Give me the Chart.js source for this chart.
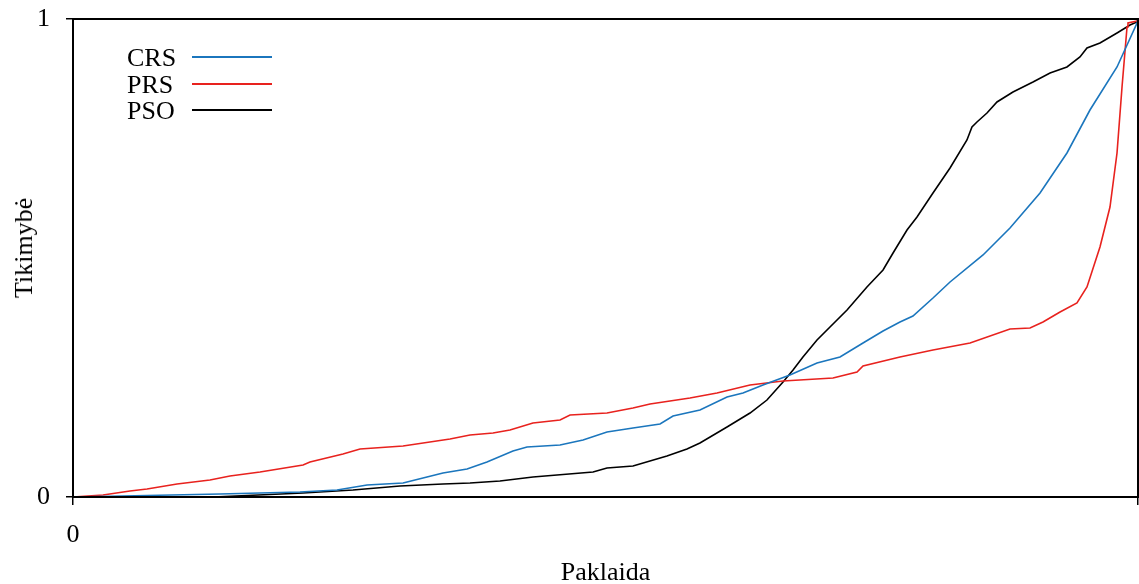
<!DOCTYPE html>
<html>
<head>
<meta charset="utf-8">
<script src="https://cdn.jsdelivr.net/npm/chart.js@4.4.1/dist/chart.umd.min.js"></script>
<style>
  html, body { margin: 0; padding: 0; background: #fff; overflow: hidden; }
  #wrap { position: relative; width: 1139px; height: 584px; }
  canvas { display: block; }
  .lg-text { position: absolute; font-family: "Liberation Serif", serif; font-size: 26px; line-height: 27px; color: #000; white-space: nowrap; }
  .lg-line { position: absolute; height: 2px; width: 80px; }
  #ytitle { position: absolute; left: 24px; top: 248px; transform: translate(-50%, -50%) rotate(-90deg); font-family: "Liberation Serif", serif; font-size: 26px; line-height: 26px; white-space: nowrap; color: #000; }
</style>
</head>
<body>
<div id="wrap">
  <canvas id="c" width="1139" height="584"></canvas>
  <div id="ytitle">Tikimybė</div>
</div>
<script>
// ---- data (error on x, cumulative probability on y) ----
const seriesNames = ['CRS', 'PRS', 'PSO'];
const seriesColors = ['#1b76bd', '#e8221e', '#000000'];

const crsErr  = [0, 0.0469, 0.1380, 0.2131, 0.2479, 0.2761, 0.3099, 0.3324, 0.3474, 0.3700, 0.3887, 0.4131, 0.4263, 0.4573, 0.4789, 0.5014, 0.5258, 0.5512, 0.5634, 0.5887, 0.6141, 0.6291, 0.6479, 0.6732, 0.6986, 0.7202, 0.7418, 0.7606, 0.7765, 0.7887, 0.8075, 0.8235, 0.8545, 0.8798, 0.9080, 0.9333, 0.9549, 0.9803, 0.9991, 1];
const crsProb = [0, 0.0021, 0.0063, 0.0105, 0.0146, 0.0251, 0.0293, 0.0418, 0.0502, 0.0586, 0.0732, 0.0962, 0.1046, 0.1088, 0.1192, 0.1360, 0.1444, 0.1527, 0.1695, 0.1820, 0.2092, 0.2176, 0.2343, 0.2552, 0.2803, 0.2929, 0.3222, 0.3473, 0.3661, 0.3787, 0.4163, 0.4498, 0.5063, 0.5628, 0.6360, 0.7197, 0.8096, 0.8996, 0.9916, 1];

const prsErr  = [0, 0.0282, 0.0535, 0.0695, 0.0977, 0.1286, 0.1474, 0.1756, 0.2160, 0.2225, 0.2535, 0.2695, 0.3099, 0.3540, 0.3728, 0.3944, 0.4103, 0.4319, 0.4573, 0.4667, 0.5014, 0.5258, 0.5418, 0.5793, 0.6047, 0.6357, 0.6667, 0.7136, 0.7362, 0.7418, 0.7765, 0.8075, 0.8423, 0.8798, 0.8986, 0.9108, 0.9268, 0.9427, 0.9521, 0.9643, 0.9737, 0.9803, 0.9850, 0.9897, 0.9906, 0.9991, 1];
const prsProb = [0, 0.0042, 0.0126, 0.0167, 0.0272, 0.0356, 0.0439, 0.0523, 0.0669, 0.0732, 0.0900, 0.1004, 0.1067, 0.1213, 0.1297, 0.1339, 0.1402, 0.1548, 0.1611, 0.1715, 0.1757, 0.1862, 0.1946, 0.2071, 0.2176, 0.2343, 0.2427, 0.2490, 0.2615, 0.2741, 0.2929, 0.3075, 0.3222, 0.3515, 0.3536, 0.3661, 0.3870, 0.4059, 0.4393, 0.5230, 0.6067, 0.7197, 0.8577, 0.9833, 0.9916, 0.9958, 1];

const psoErr  = [0, 0.1315, 0.2160, 0.2629, 0.3070, 0.3474, 0.3728, 0.4009, 0.4319, 0.4883, 0.5014, 0.5258, 0.5577, 0.5765, 0.5887, 0.6141, 0.6357, 0.6516, 0.6667, 0.6761, 0.6854, 0.6986, 0.7108, 0.7268, 0.7455, 0.7606, 0.7700, 0.7831, 0.7925, 0.8075, 0.8235, 0.8394, 0.8441, 0.8488, 0.8582, 0.8676, 0.8826, 0.9014, 0.9174, 0.9333, 0.9455, 0.9521, 0.9643, 0.9803, 0.9925, 0.9991, 1];
const psoProb = [0, 0, 0.0084, 0.0146, 0.0230, 0.0272, 0.0293, 0.0335, 0.0418, 0.0523, 0.0607, 0.0649, 0.0858, 0.1004, 0.1130, 0.1464, 0.1757, 0.2029, 0.2406, 0.2657, 0.2929, 0.3285, 0.3556, 0.3912, 0.4393, 0.4749, 0.5105, 0.5586, 0.5858, 0.6360, 0.6883, 0.7469, 0.7741, 0.7845, 0.8033, 0.8264, 0.8473, 0.8682, 0.8870, 0.8996, 0.9205, 0.9393, 0.9498, 0.9707, 0.9874, 0.9937, 1];

const xTicks = [0, 1];
const yTicks = [0, 1];
const xTitle = 'Paklaida';

// ---- build datasets ----
const pairs = [[crsErr, crsProb], [prsErr, prsProb], [psoErr, psoProb]];
const datasets = pairs.map((p, i) => ({
  label: seriesNames[i],
  data: p[0].map((x, k) => ({ x: x, y: p[1][k] })),
  borderColor: seriesColors[i],
  borderWidth: 1.6,
  pointRadius: 0,
  tension: 0,
  fill: false
}));

// ---- HTML legend inside plot ----
const wrap = document.getElementById('wrap');
seriesNames.forEach((name, i) => {
  const top = 44 + i * 26.7;
  const t = document.createElement('div');
  t.className = 'lg-text';
  t.style.left = '127px';
  t.style.top = top + 'px';
  t.textContent = name;
  wrap.appendChild(t);
  const l = document.createElement('div');
  l.className = 'lg-line';
  l.style.left = '192px';
  l.style.top = (top + 12) + 'px';
  l.style.background = seriesColors[i];
  wrap.appendChild(l);
});

const font = { family: '"Liberation Serif", serif', size: 26 };

const framePlugin = {
  id: 'frame',
  afterDraw(chart) {
    const { ctx, chartArea: a } = chart;
    ctx.save();
    ctx.strokeStyle = '#000';
    ctx.lineWidth = 2;
    ctx.strokeRect(a.left, a.top, a.right - a.left, a.bottom - a.top);
    ctx.restore();
  }
};

function zeroPad(s) { s.paddingLeft = 0; s.paddingRight = 0; s.paddingTop = 0; s.paddingBottom = 0; }

new Chart(document.getElementById('c'), {
  type: 'line',
  data: { datasets },
  plugins: [framePlugin],
  options: {
    responsive: false,
    animation: false,
    layout: { padding: { top: 19, right: 1, left: 0, bottom: 0 } },
    plugins: { legend: { display: false }, tooltip: { enabled: false } },
    scales: {
      x: {
        type: 'linear', min: 0, max: 1,
        afterBuildTicks: s => { s.ticks = xTicks.map(v => ({ value: v })); },
        afterFit: s => { s.height = 87; zeroPad(s); },
        ticks: { color: '#000', font, padding: 15, maxRotation: 0,
                 callback: v => (v === xTicks[xTicks.length - 1] ? '' : String(v)) },
        grid: { drawOnChartArea: false, tickLength: 8, color: '#000', lineWidth: 1.5 },
        border: { display: false },
        title: { display: true, text: xTitle, color: '#000',
                 font: { family: '"Liberation Serif", serif', size: 26, lineHeight: 0.85 },
                 padding: { top: 0, bottom: 0 } }
      },
      y: {
        type: 'linear', min: 0, max: 1,
        afterBuildTicks: s => { s.ticks = yTicks.map(v => ({ value: v })); },
        afterFit: s => { s.width = 73; zeroPad(s); },
        ticks: { color: '#000', font, padding: 16, callback: v => String(v) },
        grid: { drawOnChartArea: false, tickLength: 7, color: '#000', lineWidth: 1.5 },
        border: { display: false }
      }
    }
  }
});
</script>
</body>
</html>
